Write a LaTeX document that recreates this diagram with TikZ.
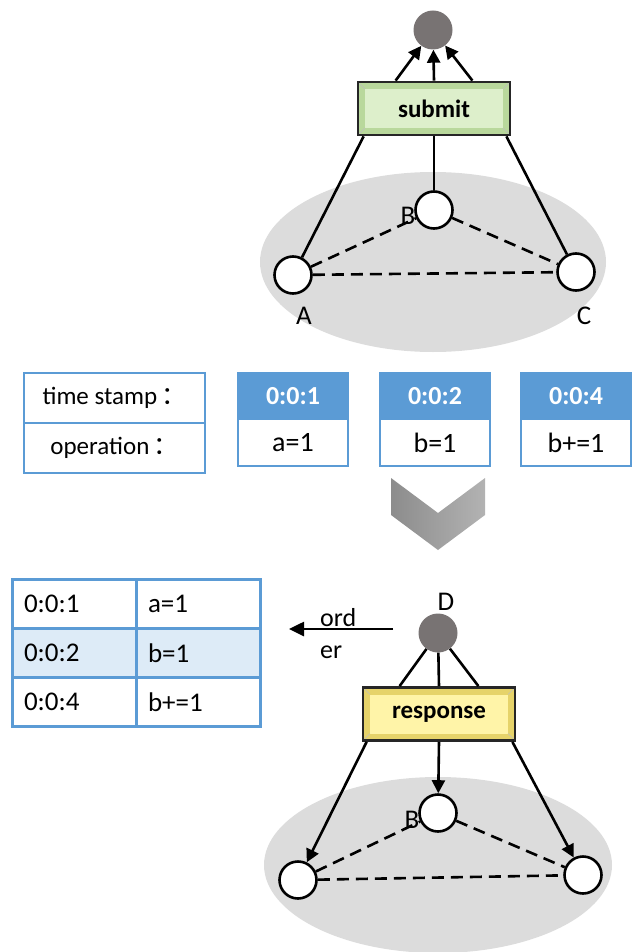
\documentclass[tikz,border=0pt]{standalone}
\usepackage{fontspec}
\setmainfont{Carlito}
\newfontfamily\cjkfont{Noto Sans CJK SC}
\usetikzlibrary{arrows.meta,calc,shapes.geometric}
\definecolor{hubgray}{HTML}{787373}
\definecolor{ellgray}{HTML}{DCDCDC}
\definecolor{tblue}{HTML}{5B9BD5}
\definecolor{lblue}{HTML}{DDEBF7}
\definecolor{gouter}{HTML}{B9D89C}
\definecolor{ginner}{HTML}{DDEFCB}
\definecolor{youter}{HTML}{E6D36A}
\definecolor{yinner}{HTML}{FFF4A8}
\tikzset{
  peer/.style={circle, draw=black, line width=2.6pt, fill=white, minimum size=37pt, inner sep=0pt},
  hub/.style={circle, fill=hubgray, minimum size=39pt, inner sep=0pt},
  conn/.style={line width=2.6pt, draw=black},
  dconn/.style={line width=2.6pt, draw=black, dash pattern=on 12pt off 7pt},
  arr/.style={conn, -{Triangle[length=13pt,width=13pt]}},
  lbl/.style={font=\fontsize{27}{30}\selectfont, inner sep=0pt},
  bevelbox/.style 2 args={rectangle, draw=black!85, line width=2.8pt, fill=#1,
    minimum width=152pt, minimum height=53pt, inner sep=0pt,
    font=\fontsize{25}{28}\selectfont\bfseries,
    path picture={
      \fill[#2] ($(path picture bounding box.south west)+(7,-7)$) rectangle ($(path picture bounding box.north east)+(-7,7)$);
      \draw[black!25, line width=0.6pt] (path picture bounding box.south west) -- ++(7,-7)
        (path picture bounding box.south east) -- ++(-7,-7)
        (path picture bounding box.north west) -- ++(7,7)
        (path picture bounding box.north east) -- ++(-7,7);
    }},
  legcell/.style={rectangle, draw=tblue, line width=2.2pt, minimum width=181pt, minimum height=50pt,
    inner sep=0pt, font=\fontsize{25}{28}\selectfont},
  cardhead/.style={rectangle, fill=tblue, draw=tblue, line width=1.5pt, minimum width=110pt, minimum height=46pt,
    inner sep=0pt, text=white, font=\fontsize{26}{28}\selectfont\bfseries},
  cardbody/.style={rectangle, fill=white, draw=tblue, line width=2.2pt, minimum width=110pt, minimum height=47pt,
    inner sep=0pt, font=\fontsize{28}{30}\selectfont},
  tcell/.style={rectangle, draw=tblue, line width=3pt, minimum width=124pt, minimum height=49pt,
    inner xsep=12pt, inner ysep=0pt, text width=100pt, align=left, font=\fontsize{27}{30}\selectfont}
}
\begin{document}
\begin{tikzpicture}[x=1pt,y=-1pt]
\useasboundingbox (0,0) rectangle (636,952);

% ---------- top group ----------
\fill[ellgray] (433,262) ellipse [x radius=173, y radius=90];
\node[hub] (top) at (433,30) {};
\node[bevelbox={gouter}{ginner}] (sub) at (434,108.5) {submit};
\node[lbl] (labB) at (408,216) {B};
\node[lbl] (labA) at (304,316) {A};
\node[lbl] (labC) at (584,316) {C};
\node[peer] (B) at (434,210) {};
\node[peer] (A) at (293,275) {};
\node[peer] (C) at (576,272) {};

\draw[dconn] (A) -- (B);
\draw[dconn] (B) -- (C);
\draw[dconn] (A) -- (C);

\draw[conn] (A) -- ($(sub.south west)+(7,0)$);
\draw[conn] (B) -- (sub.south);
\draw[conn] (C) -- ($(sub.south east)+(-5,0)$);

\draw[arr] ($(sub.north west)+(39,0)$) -- (top);
\draw[arr] (sub.north) -- (top);
\draw[arr] ($(sub.north east)+(-39,0)$) -- (top);

% ---------- legend and cards ----------
\node[legcell] (ts) at (114.5,398) {time stamp\,{\cjkfont ：}};
\node[legcell] (op) at (114.5,448) {operation\,{\cjkfont ：}};

\node[cardhead] (h1) at (293,396) {0:0:1};
\node[cardbody] (b1) at (293,442.5) {a=1};
\node[cardhead] (h2) at (435,396) {0:0:2};
\node[cardbody] (b2) at (435,442.5) {b=1};
\node[cardhead] (h3) at (576,396) {0:0:4};
\node[cardbody] (b3) at (576,442.5) {b+=1};

\shade[left color=black!45, right color=black!30]
  (391,478) -- (438,513) -- (485,478) -- (485,515) -- (438,550) -- (391,515) -- cycle;

% ---------- bottom table ----------
\node[tcell] (r1a) at (74,604) {0:0:1};
\node[tcell] (r1b) at (198,604) {a=1};
\node[tcell, fill=lblue] (r2a) at (74,653) {0:0:2};
\node[tcell, fill=lblue] (r2b) at (198,653) {b=1};
\node[tcell] (r3a) at (74,702) {0:0:4};
\node[tcell] (r3b) at (198,702) {b+=1};

% ---------- bottom group ----------
\fill[ellgray] (438,865) ellipse [x radius=174, y radius=88];
\node[hub] (D) at (438,633) {};
\node[lbl] (labD) at (446,602) {D};
\coordinate (ordfrom) at (393,629);
\coordinate (ordto) at (289,629);
\draw[conn, -{Triangle[length=15pt,width=14pt]}] (ordfrom) -- (ordto);
\node[anchor=west, align=left, inner sep=0pt, font=\fontsize{26}{32}\selectfont] (ordlbl) at (320,634) {ord\\er};

\node[bevelbox={youter}{yinner}] (resp) at (439,714) {response};
\draw[conn] (D) -- ($(resp.north west)+(38,0)$);
\draw[conn] (D) -- (resp.north);
\draw[conn] (D) -- ($(resp.north east)+(-38,0)$);

\node[lbl] (labB2) at (412,820) {B};
\node[peer] (B2) at (438,813) {};
\node[peer] (A2) at (298,880) {};
\node[peer] (C2) at (583,875) {};

\draw[dconn] (A2) -- (B2);
\draw[dconn] (B2) -- (C2);
\draw[dconn] (A2) -- (C2);

\draw[arr] ($(resp.south west)+(5,0)$) -- (A2);
\draw[arr] (resp.south) -- (B2);
\draw[arr] ($(resp.south east)+(-4,0)$) -- (C2);
\end{tikzpicture}
\end{document}
